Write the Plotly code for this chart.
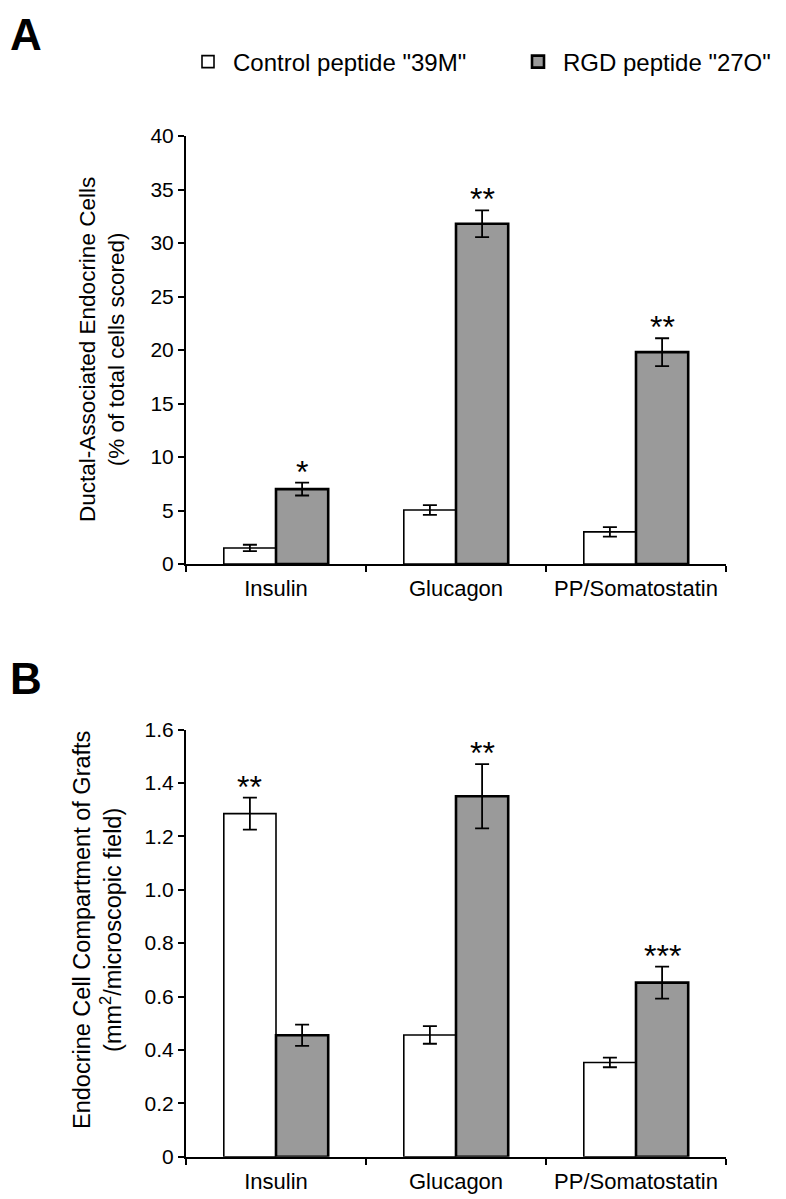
import plotly.graph_objects as go

categories = ["Insulin", "Glucagon", "PP/Somatostatin"]

# Panel A: ductal-associated endocrine cells (% of total cells scored)
a_control = [1.5, 5.05, 3.0]
a_control_err = [0.3, 0.45, 0.45]
a_rgd = [7.0, 31.8, 19.8]
a_rgd_err = [0.6, 1.25, 1.3]
a_control_stars = ["", "", ""]
a_rgd_stars = ["*", "**", "**"]

# Panel B: endocrine cell compartment of grafts (mm2/microscopic field)
b_control = [1.285, 0.456, 0.353]
b_control_err = [0.06, 0.033, 0.018]
b_rgd = [0.455, 1.35, 0.652]
b_rgd_err = [0.04, 0.12, 0.06]
b_control_stars = ["**", "", ""]
b_rgd_stars = ["", "**", "***"]

a_ticks = [0, 5, 10, 15, 20, 25, 30, 35, 40]
b_tickvals = [0, 0.2, 0.4, 0.6, 0.8, 1.0, 1.2, 1.4, 1.6]
b_ticktext = ["0", "0.2", "0.4", "0.6", "0.8", "1.0", "1.2", "1.4", "1.6"]

series_names = ['Control peptide "39M"', 'RGD peptide "27O"']

# the page body has an 8px margin; the figure fills the rest of the window
PAGE_OFF = 8
W, H = 786 - PAGE_OFF, 1199 - PAGE_OFF
FONT = "Arial, Liberation Sans, Helvetica, sans-serif"
GREY = "#9a9a9a"
BARGAP = 0.42

def px(p):
    return (p - PAGE_OFF) / W

def py(p):
    return 1 - (p - PAGE_OFF) / H

fig = go.Figure()

def add_bars(vals, errs, name, fill, lw, xa, ya, show):
    fig.add_trace(go.Bar(
        x=categories, y=vals, name=name, xaxis=xa, yaxis=ya,
        marker=dict(color=fill, line=dict(color="black", width=lw)),
        error_y=dict(type="data", array=errs, color="black", thickness=1.8, width=7),
        showlegend=show, legendgroup=name,
    ))

add_bars(a_control, a_control_err, series_names[0], "white", 1.6, "x", "y", True)
add_bars(a_rgd, a_rgd_err, series_names[1], GREY, 2.6, "x", "y", True)
add_bars(b_control, b_control_err, series_names[0], "white", 1.6, "x2", "y2", False)
add_bars(b_rgd, b_rgd_err, series_names[1], GREY, 2.6, "x2", "y2", False)

off = (1 - BARGAP) / 4
annotations = []
def add_stars(vals, errs, stars, side, xref, yref):
    for i, (v, e, s) in enumerate(zip(vals, errs, stars)):
        if not s:
            continue
        annotations.append(dict(
            x=i + side * off, y=v + e, xref=xref, yref=yref, text=s,
            showarrow=False, yanchor="middle", yshift=11,
            font=dict(family=FONT, size=32, color="black"),
        ))

add_stars(a_control, a_control_err, a_control_stars, -1, "x", "y")
add_stars(a_rgd, a_rgd_err, a_rgd_stars, 1, "x", "y")
add_stars(b_control, b_control_err, b_control_stars, -1, "x2", "y2")
add_stars(b_rgd, b_rgd_err, b_rgd_stars, 1, "x2", "y2")

# panel letters
annotations.append(dict(text="<b>A</b>", x=0, y=1, xref="paper", yref="paper",
                        xanchor="left", yanchor="top", showarrow=False,
                        font=dict(family=FONT, size=44, color="black")))
annotations.append(dict(text="<b>B</b>", x=0, y=py(678), xref="paper", yref="paper",
                        xanchor="left", yanchor="middle", showarrow=False,
                        font=dict(family=FONT, size=44, color="black")))
# y axis titles
annotations.append(dict(text="Ductal-Associated Endocrine Cells<br>(% of total cells scored)",
                        x=px(102), y=py(350), xref="paper", yref="paper", textangle=-90,
                        xanchor="center", yanchor="middle", showarrow=False,
                        font=dict(family=FONT, size=22.5, color="black")))
annotations.append(dict(text="Endocrine Cell Compartment of Grafts<br>(mm<sup>2</sup>/microscopic field)",
                        x=px(97), y=py(930), xref="paper", yref="paper", textangle=-90,
                        xanchor="center", yanchor="middle", showarrow=False,
                        font=dict(family=FONT, size=23.5, color="black")))

xdom = [px(186), px(726)]
xcommon = dict(type="category", showline=True, linecolor="black", linewidth=2,
               ticks="outside", tickson="boundaries", ticklen=6, tickwidth=1.5,
               tickcolor="black", showgrid=False, zeroline=False, automargin=False,
               ticklabelstandoff=4,
               tickfont=dict(family=FONT, size=22, color="black"), domain=xdom,
               range=[-0.5, 2.5])
ycommon = dict(showline=True, linecolor="black", linewidth=2, ticks="outside",
               ticklen=6, tickwidth=1.5, tickcolor="black", showgrid=False,
               zeroline=False, automargin=False,
               tickfont=dict(family=FONT, size=21, color="black"))

fig.update_layout(
    width=W, height=H, margin=dict(l=0, r=0, t=0, b=0, autoexpand=False),
    paper_bgcolor="white", plot_bgcolor="white",
    barmode="group", bargap=BARGAP, bargroupgap=0,
    xaxis=dict(anchor="y", **xcommon),
    yaxis=dict(anchor="x", domain=[py(564), py(136)], range=[0, 40],
               tickvals=a_ticks, **ycommon),
    xaxis2=dict(anchor="y2", **xcommon),
    yaxis2=dict(anchor="x2", domain=[py(1156.7), py(729.5)], range=[0, 1.6],
                tickvals=b_tickvals, ticktext=b_ticktext, **ycommon),
    legend=dict(orientation="h", x=px(183), xanchor="left", y=py(62), yanchor="middle",
                font=dict(family=FONT, size=24, color="black"),
                entrywidth=275, entrywidthmode="pixels", itemwidth=40,
                bgcolor="rgba(0,0,0,0)"),
    annotations=annotations,
    showlegend=True,
)

fig.write_html("out.html")
